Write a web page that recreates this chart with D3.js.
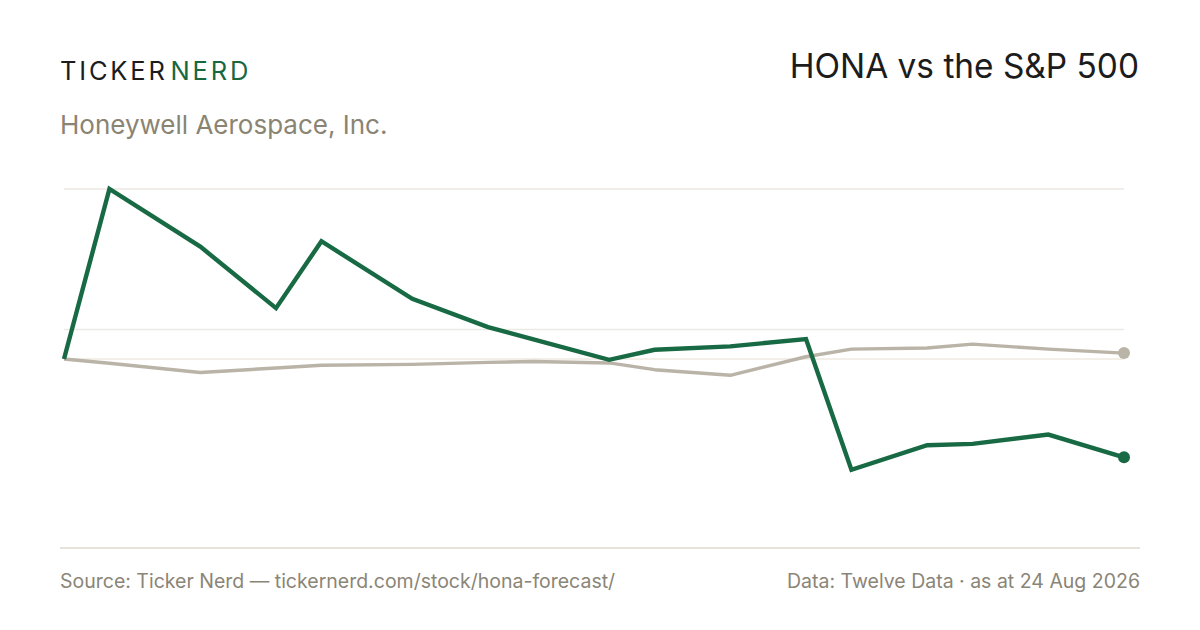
<!DOCTYPE html>
<html>
<head>
<meta charset="utf-8">
<script src="https://cdn.jsdelivr.net/npm/d3@7/dist/d3.min.js"></script>
<style>
  html, body { margin: 0; padding: 0; background: #ffffff; }
  svg { display: block; }
  text { font-family: Inter, "Noto Sans", sans-serif; }
</style>
</head>
<body>
<svg id="chart" width="1200" height="630"></svg>
<script>
// ---- data ----
const dates = ["2026-06-15","2026-06-18","2026-06-24","2026-06-29","2026-07-02","2026-07-08","2026-07-13","2026-07-16","2026-07-21","2026-07-24","2026-07-29","2026-08-03","2026-08-06","2026-08-11","2026-08-14","2026-08-19","2026-08-24"];
const honaValues = [189.5, 250.0, 229.5, 207.6, 231.4, 210.9, 200.85, 196.5, 189.2, 192.8, 194.0, 196.6, 150.1, 158.8, 159.3, 162.6, 154.5];
const spxValues  = [189.5, 188.0, 184.7, 186.3, 187.3, 187.6, 188.3, 188.6, 188.1, 185.7, 183.7, 190.3, 193.0, 193.4, 194.8, 193.0, 191.6];
const gridValues = [200, 250];
const baselineValue = honaValues[0];
const seriesNames = ["HONA", "S&P 500"];

const parse = d3.timeParse("%Y-%m-%d");
const xDates = dates.map(parse);

const svg = d3.select("#chart");
const plot = { left: 64, right: 1124, top: 189, bottom: 470 };

const x = d3.scaleTime().domain(d3.extent(xDates)).range([plot.left, plot.right]);
const y = d3.scaleLinear().domain([150, 250]).range([plot.bottom, plot.top]);

// header
const brand = svg.append("text").attr("x", 60).attr("y", 79.5)
  .attr("font-size", 25.5).attr("letter-spacing", 2.8).attr("font-weight", 400);
brand.append("tspan").attr("fill", "#1c1c1c").text("TICKER");
brand.append("tspan").attr("fill", "#17683f").attr("dx", 3).text("NERD");

svg.append("text").attr("x", 1139).attr("y", 77.5).attr("text-anchor", "end")
  .attr("font-size", 33.4).attr("fill", "#1c1c1c").text("HONA vs the S&P 500");

svg.append("text").attr("x", 60).attr("y", 134)
  .attr("font-size", 26).attr("fill", "#8a8473").text("Honeywell Aerospace, Inc.");

// gridlines
svg.append("g").selectAll("line").data(gridValues).join("line")
  .attr("x1", plot.left).attr("x2", plot.right)
  .attr("y1", d => y(d)).attr("y2", d => y(d))
  .attr("stroke", "#ece9e3").attr("stroke-width", 1.3);

// baseline
svg.append("line")
  .attr("x1", plot.left).attr("x2", plot.right)
  .attr("y1", y(baselineValue)).attr("y2", y(baselineValue))
  .attr("stroke", "#e3dfd2").attr("stroke-width", 1.2);

const line = d3.line().x((d, i) => x(xDates[i])).y(d => y(d));

// S&P 500
svg.append("path").datum(spxValues)
  .attr("d", line).attr("fill", "none")
  .attr("stroke", "#bab3a7").attr("stroke-width", 3.4)
  .attr("stroke-linejoin", "round");
svg.append("circle")
  .attr("cx", x(xDates[xDates.length - 1])).attr("cy", y(spxValues[spxValues.length - 1]))
  .attr("r", 6).attr("fill", "#bab3a7");

// HONA
svg.append("path").datum(honaValues)
  .attr("d", line).attr("fill", "none")
  .attr("stroke", "#176a43").attr("stroke-width", 4.4)
  .attr("stroke-linejoin", "miter");
svg.append("circle")
  .attr("cx", x(xDates[xDates.length - 1])).attr("cy", y(honaValues[honaValues.length - 1]))
  .attr("r", 6).attr("fill", "#176a43");

// footer rule
svg.append("line").attr("x1", 60).attr("x2", 1140).attr("y1", 548).attr("y2", 548)
  .attr("stroke", "#dedad0").attr("stroke-width", 1.5);

svg.append("text").attr("x", 60).attr("y", 588)
  .attr("font-size", 19.5).attr("fill", "#8a8577")
  .text("Source: Ticker Nerd — tickernerd.com/stock/hona-forecast/");
svg.append("text").attr("x", 1140).attr("y", 588).attr("text-anchor", "end")
  .attr("font-size", 19.5).attr("fill", "#8a8577")
  .text("Data: Twelve Data · as at 24 Aug 2026");
</script>
</body>
</html>
